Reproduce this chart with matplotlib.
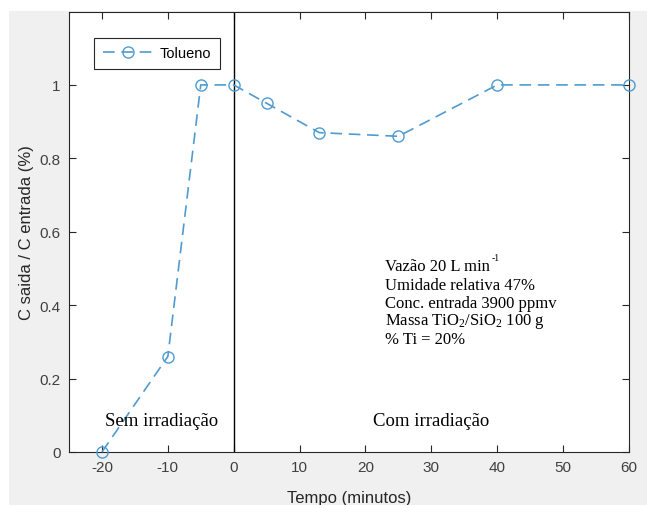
import numpy as np
import matplotlib.pyplot as plt
from matplotlib.patches import Rectangle

tempo = [-20, -10, -5, 0, 5, 13, 25, 40, 60]
razao = [0.0, 0.26, 1.0, 1.0, 0.95, 0.87, 0.86, 1.0, 1.0]

xticks = [-20, -10, 0, 10, 20, 30, 40, 50, 60]
yticks = [0, 0.2, 0.4, 0.6, 0.8, 1.0]
ytick_labels = ['0', '0.2', '0.4', '0.6', '0.8', '1']

info_lines = [
    'Vazão 20 L min',
    'Umidade relativa 47%',
    'Conc. entrada 3900 ppmv',
    r'Massa TiO$_{\mathregular{2}}$/SiO$_{\mathregular{2}}$ 100 g',
    '% Ti = 20%',
]
info_y = [0.506, 0.456, 0.407, 0.358, 0.309]

plt.rcParams['font.family'] = ['Liberation Sans', 'DejaVu Sans']
plt.rcParams['mathtext.default'] = 'regular'
plt.rcParams['axes.unicode_minus'] = False

fig = plt.figure(figsize=(6.47, 5.06), dpi=100, facecolor='#f0f0f0')
# white margins from the original screenshot
fig.patches.append(Rectangle((0, 0), 9 / 647, 1, transform=fig.transFigure,
                             facecolor='white', edgecolor='none', zorder=-1))
fig.patches.append(Rectangle((0, 1 - 12 / 506), 1, 12 / 506, transform=fig.transFigure,
                             facecolor='white', edgecolor='none', zorder=-1))

ax = fig.add_axes([69 / 647, 53 / 506, 560 / 647, 440.5 / 506])
ax.set_facecolor('white')

azul = '#4f9bd0'
ax.plot(tempo, razao, linestyle='--', color=azul, linewidth=1.2, dashes=(7, 4),
        marker='o', markersize=8, markerfacecolor='none', markeredgecolor=azul,
        markeredgewidth=1.0, label='Tolueno', clip_on=False, zorder=3)
ax.axvline(0, color='black', linewidth=1.0, zorder=2)

ax.set_xlim(-25, 60)
ax.set_ylim(0, 1.2)
ax.set_xticks(xticks)
ax.set_yticks(yticks)
ax.set_yticklabels(ytick_labels)

ax.tick_params(direction='in', top=True, right=True, length=5, width=0.8,
               colors='#262626', labelcolor='#404040', labelsize=11, pad=6)
for s in ax.spines.values():
    s.set_color('#262626')
    s.set_linewidth(0.8)

ax.set_ylabel('C saida / C entrada (%)', fontsize=12, color='#262626', labelpad=4)
ax.set_xlabel('Tempo (minutos)', fontsize=12, color='#262626', labelpad=11)

serif = ['Liberation Serif', 'DejaVu Serif']
info_texts = []
for txt, yy in zip(info_lines, info_y):
    info_texts.append(ax.text(23.0, yy, txt, family=serif, fontsize=12,
                              va='center', ha='left'))
# superscript -1 after "min"
ax.annotate('-1', xy=(1.0, 0.75), xycoords=info_texts[0], xytext=(1, 0),
            textcoords='offset points', family=serif, fontsize=7,
            ha='left', va='bottom')

ax.text(-11, 0.087, 'Sem irradiação', family=serif, fontsize=13.5, ha='center', va='center')
ax.text(30, 0.087, 'Com irradiação', family=serif, fontsize=13.5, ha='center', va='center')

leg = ax.legend(loc='upper left', bbox_to_anchor=(0.032, 0.957), fontsize=10.5,
                fancybox=False, framealpha=1, borderpad=0.6, handlelength=3.4,
                handletextpad=0.5)
leg.get_frame().set_edgecolor('#262626')
leg.get_frame().set_linewidth(0.8)

fig.savefig('out.png', dpi=100, facecolor=fig.get_facecolor())
